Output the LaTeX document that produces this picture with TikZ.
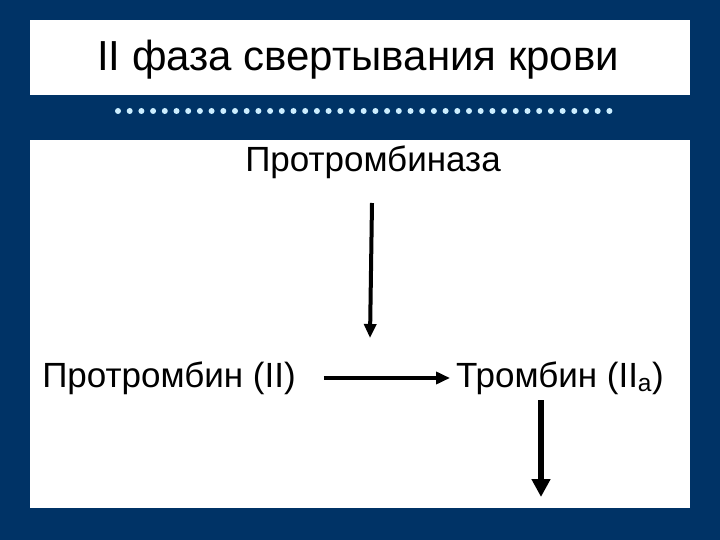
\documentclass[tikz,border=0pt]{standalone}
\usepackage{fontspec}
\setmainfont{Liberation Sans}
\usetikzlibrary{arrows.meta}
\definecolor{bg}{HTML}{003366}
\definecolor{dotc}{HTML}{CCEEFF}
\begin{document}
\begin{tikzpicture}[x=1pt,y=-1pt,
  txt/.style={inner sep=0pt,font=\fontsize{35}{40}\selectfont},
  arr/.style={-{Triangle[length=14pt,width=12pt]},line width=4pt}]
\fill[bg] (0,0) rectangle (720,540);
\useasboundingbox (0,0) rectangle (720,540);
\fill[white] (30,20) rectangle (690,95);
\fill[white] (30,140) rectangle (690,508);
\node[inner sep=0pt,font=\fontsize{42}{48}\selectfont] (title) at (358,60) {II фаза свертывания крови};
\foreach \k in {0,...,42} \fill[dotc] (118+11.7*\k,111) circle (3);
\node[txt] (ptb) at (373,162) {Протромбиназа};
\node[txt] (pt) at (169,378) {Протромбин (II)};
\node[txt] (tr) at (560,378) {Тромбин (II\textsubscript{a})};
\coordinate (a1) at (372,203);
\coordinate (a1e) at (370,338);
\draw[arr] (a1) -- (a1e);
\draw[arr] (pt.east) ++(28,0) coordinate (h1) -- ([xshift=-6pt]tr.west);
\coordinate (d1) at (541,400);
\coordinate (d2) at (541,497);
\draw[arr,line width=6pt,-{Triangle[length=18pt,width=18pt]}] (d1) -- (d2);
\end{tikzpicture}
\end{document}
